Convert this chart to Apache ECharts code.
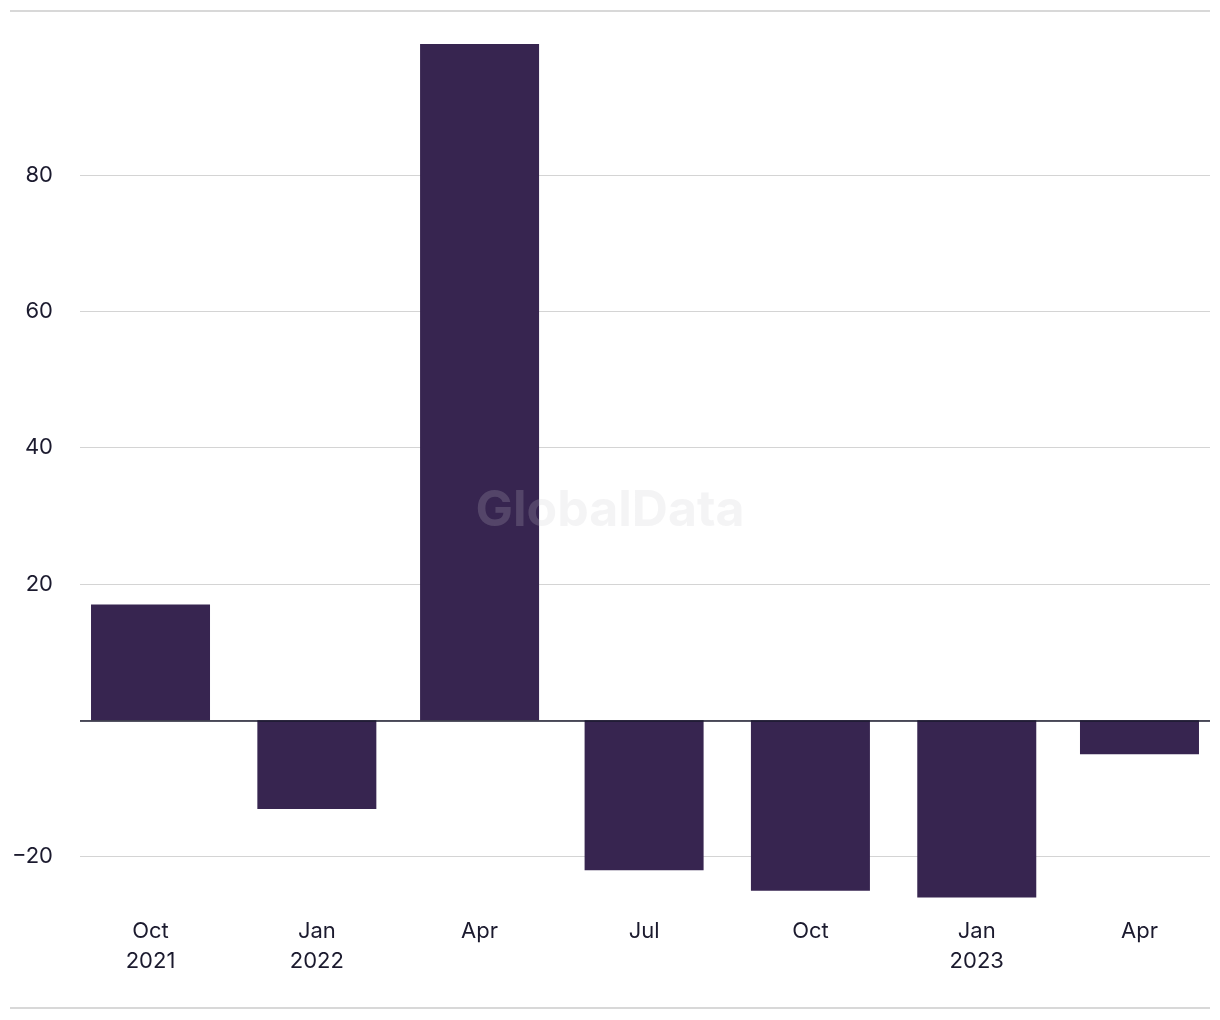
<!DOCTYPE html>
<html>
<head>
<meta charset="utf-8">
<script src="https://cdn.jsdelivr.net/npm/echarts@6/dist/echarts.min.js"></script>
<style>
  html, body { margin: 0; padding: 0; background: #fff; }
  #main { width: 1220px; height: 1020px; }
</style>
</head>
<body>
<div id="main"></div>
<script>
  // quarter start dates (year, month index) and the values
  var quarters = [[2021, 9], [2022, 0], [2022, 3], [2022, 6], [2022, 9], [2023, 0], [2023, 3]];
  var values = [17, -13, 99.2, -22, -25, -26, -5];
  var monthNames = ['Jan', 'Feb', 'Mar', 'Apr', 'May', 'Jun', 'Jul', 'Aug', 'Sep', 'Oct', 'Nov', 'Dec'];
  var yTicks = [-20, 0, 20, 40, 60, 80];

  // x is measured in days since 1970 so the quarters keep their real spacing
  var DAY = 24 * 3600 * 1000;
  var days = quarters.map(function (q) { return Math.round(Date.UTC(q[0], q[1], 1) / DAY); });
  var seriesData = days.map(function (d, i) { return [d, values[i]]; });

  var textColor = '#1b1a2e';
  var font = 'Inter, "Noto Sans", sans-serif';

  var myChart = echarts.init(document.getElementById('main'));

  var option = {
    backgroundColor: '#ffffff',
    animation: false,
    grid: {
      left: 80,
      right: 10,
      top: 38.6,
      bottom: 122.5
    },
    xAxis: {
      type: 'value',
      min: days[0] - 39,
      max: days[days.length - 1] + 39,
      axisLine: { show: false, onZero: false },
      axisTick: { show: false, customValues: days },
      splitLine: { show: false },
      axisLabel: {
        customValues: days,
        margin: 19,
        color: textColor,
        fontFamily: font,
        fontSize: 22,
        lineHeight: 30,
        align: 'center',
        formatter: function (val) {
          var d = new Date(val * DAY);
          var m = d.getUTCMonth();
          var s = monthNames[m];
          if (m === 0 || val === days[0]) s += '\n' + d.getUTCFullYear();
          return s;
        }
      }
    },
    yAxis: {
      type: 'value',
      min: -26,
      max: 100,
      axisLine: { show: false },
      axisTick: { show: false, customValues: yTicks },
      splitLine: { show: true, lineStyle: { color: '#d4d4d4', width: 1.2 } },
      axisLabel: {
        customValues: yTicks,
        margin: 27,
        color: textColor,
        fontFamily: font,
        fontSize: 22,
        formatter: function (v) {
          if (v === 0) return '';
          return String(v).replace('-', '\u2212');
        }
      }
    },
    graphic: [
      { type: 'line', shape: { x1: 10, y1: 11, x2: 1210, y2: 11 }, style: { stroke: '#d8d8d8', lineWidth: 2 }, z: 0 },
      { type: 'line', shape: { x1: 10, y1: 1008, x2: 1210, y2: 1008 }, style: { stroke: '#d8d8d8', lineWidth: 2 }, z: 0 },
      {
        type: 'text', left: 'center', top: 486, z: 100,
        style: {
          text: 'GlobalData',
          fill: 'rgba(200,200,205,0.2)',
          font: 'bold 50px Inter, "Noto Sans", sans-serif'
        }
      }
    ],
    series: [{
      type: 'bar',
      data: seriesData,
      barWidth: 119,
      itemStyle: { color: '#372550' },
      markLine: {
        silent: true,
        symbol: 'none',
        label: { show: false },
        lineStyle: { color: '#1b1a2e', width: 1.5, type: 'solid' },
        data: [{ yAxis: 0 }]
      }
    }]
  };

  myChart.setOption(option);
</script>
</body>
</html>
